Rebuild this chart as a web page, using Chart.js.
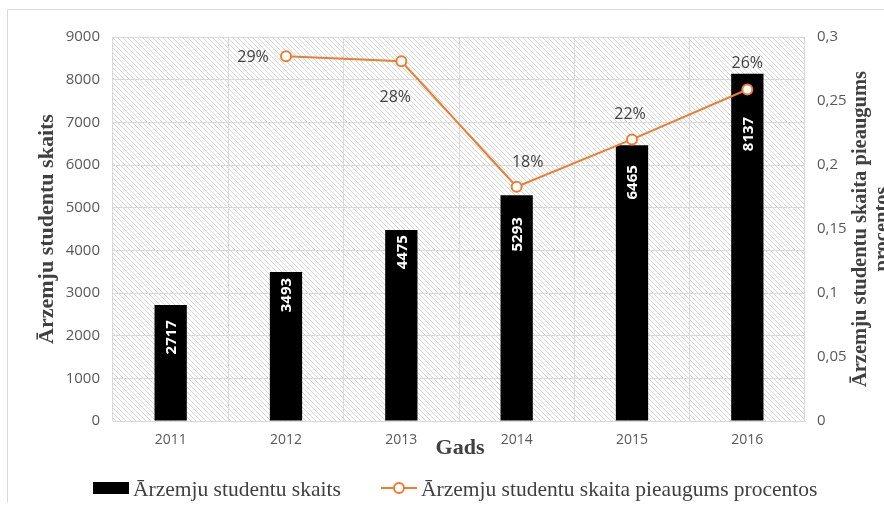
<!DOCTYPE html>
<html>
<head>
<meta charset="utf-8">
<script src="https://cdn.jsdelivr.net/npm/chart.js@4.4.1/dist/chart.umd.min.js"></script>
<style>
  html, body { margin: 0; padding: 0; background: #fff; }
  #wrap { position: relative; width: 884px; height: 506px; }
</style>
</head>
<body>
<div id="wrap"><canvas id="chart" width="884" height="506"></canvas></div>
<script>
// Data
const years = ["2011", "2012", "2013", "2014", "2015", "2016"]
const studentCounts = [2717, 3493, 4475, 5293, 6465, 8137]
const growthShare = [null, 0.285, 0.281, 0.183, 0.22, 0.259]
const growthLabels = [null, "29%", "28%", "18%", "22%", "26%"]

const barLabel = "Ārzemju studentu skaits"
const lineLabel = "Ārzemju studentu skaita pieaugums procentos"
const leftTitle = "Ārzemju studentu skaits"
const rightTitle = ["Ārzemju studentu skaita pieaugums", "procentos"]
const xTitle = "Gads"

// label placement (style only): distance of bar value below bar top,
// and offset of each percentage label from its point
const barLabelDrop = [15, 6, 5, 22, 20, 43]
const growthLabelOffset = [null, [-33, 1], [-6, 36], [11, -24], [-2, -25], [0, -26]]

const ORANGE = "#ED7D31"
const GRID = "#d9d9d9"
const TICK = "#595959"
const TEXT = "#404040"
const SERIF = "'Liberation Serif', 'DejaVu Serif', serif"
const SANS = "'Open Sans', 'Liberation Sans', sans-serif"

// Diagonal hatch used as plot background
function makeHatch() {
  const c = document.createElement("canvas")
  c.width = 5
  c.height = 5
  const g = c.getContext("2d")
  g.fillStyle = "#ffffff"
  g.fillRect(0, 0, 5, 5)
  g.strokeStyle = "#d8d8d8"
  g.lineWidth = 1
  g.beginPath()
  g.moveTo(-1, -1); g.lineTo(6, 6)
  g.moveTo(-1, 4); g.lineTo(1, 6)
  g.moveTo(4, -1); g.lineTo(6, 1)
  g.stroke()
  return g.createPattern(c, "repeat")
}

const backgroundPlugin = {
  id: "background",
  beforeDraw(chart) {
    const { ctx, chartArea: a } = chart
    ctx.save()
    ctx.fillStyle = "#fff"
    ctx.fillRect(0, 0, chart.width, chart.height)
    ctx.strokeStyle = GRID
    ctx.lineWidth = 1
    ctx.beginPath()
    ctx.moveTo(chart.width + 1, 9.5)
    ctx.lineTo(7.5, 9.5)
    ctx.lineTo(7.5, 502.5)
    ctx.stroke()
    ctx.fillStyle = makeHatch()
    ctx.fillRect(a.left, a.top, a.right - a.left, a.bottom - a.top)
    ctx.restore()
  },
}

const labelsPlugin = {
  id: "labels",
  afterDatasetsDraw(chart) {
    const { ctx } = chart
    ctx.save()
    // bar values, rotated, inside the top of each bar
    const bars = chart.getDatasetMeta(0).data
    ctx.fillStyle = "#fff"
    ctx.font = "bold 15px " + SANS
    bars.forEach((bar, i) => {
      ctx.save()
      ctx.translate(bar.x, bar.y + barLabelDrop[i])
      ctx.rotate(-Math.PI / 2)
      ctx.textAlign = "right"
      ctx.textBaseline = "middle"
      ctx.fillText(String(studentCounts[i]), 0, 1)
      ctx.restore()
    })
    // line percentages
    const pts = chart.getDatasetMeta(1).data
    ctx.fillStyle = TEXT
    ctx.font = "16px " + SANS
    ctx.textAlign = "center"
    ctx.textBaseline = "middle"
    pts.forEach((p, i) => {
      if (!growthLabels[i]) return
      const [dx, dy] = growthLabelOffset[i]
      ctx.fillText(growthLabels[i], p.x + dx, p.y + dy)
    })
    ctx.restore()
  },
  afterDraw(chart) {
    const { ctx, chartArea: a } = chart
    const midY = (a.top + a.bottom) / 2
    ctx.save()
    ctx.fillStyle = TEXT
    ctx.textAlign = "center"
    ctx.textBaseline = "middle"
    // left axis title
    ctx.font = "bold 22px " + SERIF
    ctx.save()
    ctx.translate(47, midY)
    ctx.rotate(-Math.PI / 2)
    ctx.fillText(leftTitle, 0, 0)
    ctx.restore()
    // right axis title (two lines, second is cut by the edge)
    ctx.font = "bold 20.5px " + SERIF
    ctx.save()
    ctx.translate(861, midY)
    ctx.rotate(-Math.PI / 2)
    ctx.fillText(rightTitle[0], 0, 0)
    ctx.fillText(rightTitle[1], 0, 22)
    ctx.restore()
    // x axis title
    ctx.font = "bold 22px " + SERIF
    ctx.fillText(xTitle, 460, 448)
    // legend
    ctx.fillStyle = "#000"
    ctx.fillRect(93, 482, 36, 12)
    ctx.fillStyle = TEXT
    ctx.font = "21.5px " + SERIF
    ctx.textAlign = "left"
    ctx.textBaseline = "alphabetic"
    ctx.fillText(barLabel, 133, 496)
    ctx.strokeStyle = ORANGE
    ctx.lineWidth = 2
    ctx.beginPath()
    ctx.moveTo(381, 488)
    ctx.lineTo(417, 488)
    ctx.stroke()
    ctx.beginPath()
    ctx.arc(399, 488, 5, 0, Math.PI * 2)
    ctx.fillStyle = "#fff"
    ctx.fill()
    ctx.stroke()
    ctx.fillStyle = TEXT
    ctx.fillText(lineLabel, 421, 496)
    ctx.restore()
  },
}

function createChart() {
  const ctx = document.getElementById("chart").getContext("2d")

  new Chart(ctx, {
    data: {
      labels: years,
      datasets: [
        {
          type: "bar",
          label: barLabel,
          data: studentCounts,
          backgroundColor: "#000",
          borderWidth: 0,
          barPercentage: 0.28,
          categoryPercentage: 1,
          yAxisID: "y",
          order: 2,
        },
        {
          type: "line",
          label: lineLabel,
          data: growthShare,
          borderColor: ORANGE,
          borderWidth: 2,
          pointRadius: 5,
          pointBorderWidth: 2,
          pointBackgroundColor: "#fff",
          pointBorderColor: ORANGE,
          tension: 0,
          yAxisID: "y1",
          order: 1,
        },
      ],
    },
    options: {
      responsive: false,
      animation: false,
      layout: {
        padding: { top: 37, left: 0, right: 0, bottom: 0 },
      },
      plugins: {
        legend: { display: false },
        tooltip: { enabled: false },
      },
      scales: {
        x: {
          offset: true,
          grid: { color: GRID, offset: true, drawTicks: false },
          border: { color: GRID },
          ticks: {
            color: TICK,
            font: { family: SANS, size: 14 },
            padding: 11,
          },
          afterFit: (s) => { s.height = 85 },
        },
        y: {
          position: "left",
          min: 0,
          max: 9000,
          grid: { color: GRID, drawTicks: false },
          border: { display: false },
          ticks: {
            stepSize: 1000,
            color: TICK,
            font: { family: SANS, size: 15 },
            padding: 13,
            callback: (v) => String(v),
          },
          afterFit: (s) => { s.width = 113 },
        },
        y1: {
          position: "right",
          min: 0,
          max: 0.3,
          grid: { display: false, drawTicks: false },
          border: { display: false },
          ticks: {
            stepSize: 0.05,
            color: TICK,
            font: { family: SANS, size: 15 },
            padding: 12,
            callback: (v) => String(Math.round(v * 100) / 100).replace(".", ","),
          },
          afterFit: (s) => { s.width = 79 },
        },
      },
    },
    plugins: [backgroundPlugin, labelsPlugin],
  })
}

document.addEventListener("DOMContentLoaded", createChart)
</script>
</body>
</html>
